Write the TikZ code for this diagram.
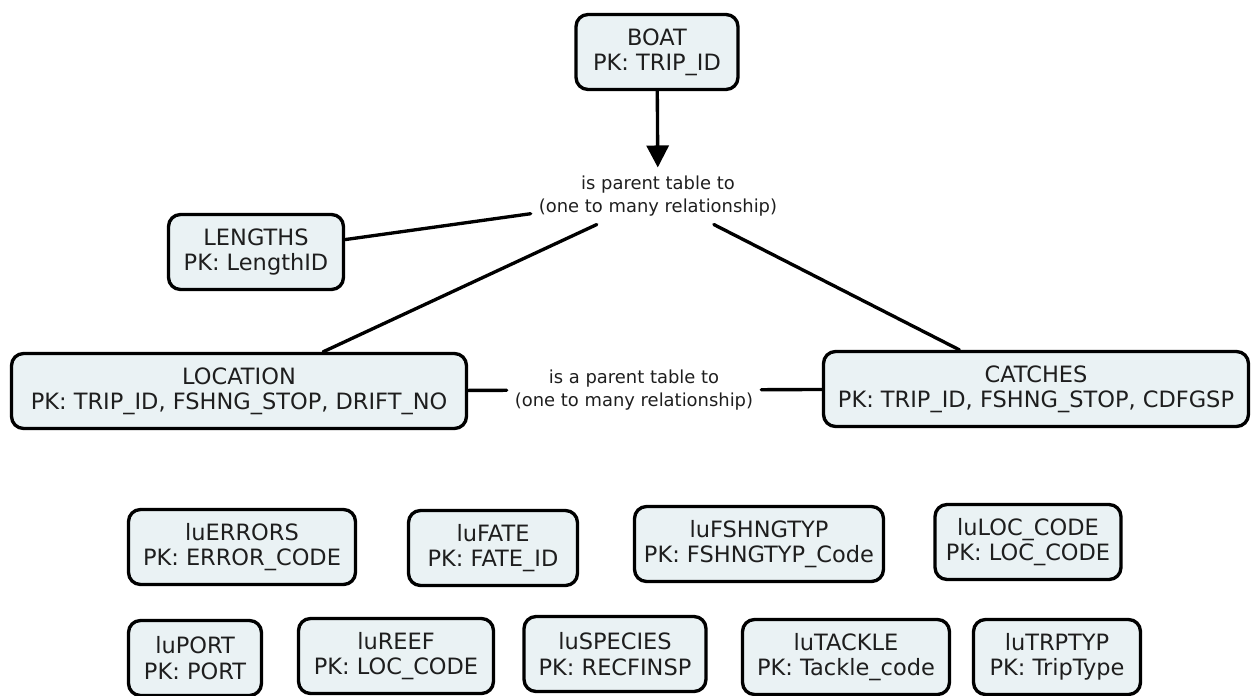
\documentclass[tikz,border=0pt]{standalone}
\usepackage{fontspec}
\setmainfont{DejaVu Sans}
\usetikzlibrary{arrows.meta}
\definecolor{tblfill}{RGB}{234,242,244}
\definecolor{tbltext}{RGB}{30,30,30}
\begin{document}
\begin{tikzpicture}[x=0.02cm,y=-0.02cm, line join=round, line cap=round,
	tbl/.style={draw, line width=1.9pt, rounded corners=6.8pt, fill=tblfill, text=tbltext,
		align=center, minimum height=1.5cm, font=\fontsize{12.8}{14.4}\selectfont},
	rel/.style={align=center, inner sep=4.5pt, text=tbltext, font=\fontsize{10.2}{13.2}\selectfont},
	link/.style={line width=1.9pt}]
	\useasboundingbox (0,0) rectangle (1252,696);
	% bang chinh
	\node[tbl, minimum width=3.24cm] (boat) at (657,52) {BOAT\\PK: TRIP\_ID};
	\node[rel] (rel1) at (658,196) {is parent table to\\(one to many relationship)};
	\node[tbl, minimum width=3.5cm] (lengths) at (256,252) {LENGTHS\\PK: LengthID};
	\node[tbl, minimum width=9.1cm] (location) at (239,391) {LOCATION\\PK: TRIP\_ID, FSHNG\_STOP, DRIFT\_NO};
	\node[tbl, minimum width=8.5cm] (catches) at (1036,389) {CATCHES\\PK: TRIP\_ID, FSHNG\_STOP, CDFGSP};
	\node[rel] (rel2) at (634,390) {is a parent table to\\(one to many relationship)};
	\draw[link,-{Triangle[width=0.44cm,length=0.44cm]}] (boat)--(rel1);
	\draw[link] (lengths)--(rel1);
	\draw[link] (rel1)--(location);
	\draw[link] (rel1)--(catches);
	\draw[link] (location)--(rel2);
	\draw[link] (rel2)--(catches);
	% bang tra cuu
	\node[tbl, minimum width=4.54cm] (luerrors) at (242,547) {luERRORS\\PK: ERROR\_CODE};
	\node[tbl, minimum width=3.38cm] (lufate) at (493,548) {luFATE\\PK: FATE\_ID};
	\node[tbl, minimum width=4.98cm] (lufshngtyp) at (759,544) {luFSHNGTYP\\PK: FSHNGTYP\_Code};
	\node[tbl, minimum width=3.72cm] (luloccode) at (1028,542) {luLOC\_CODE\\PK: LOC\_CODE};
	\node[tbl, minimum width=2.66cm] (luport) at (195,658) {luPORT\\PK: PORT};
	\node[tbl, minimum width=3.9cm] (lureef) at (396,656) {luREEF\\PK: LOC\_CODE};
	\node[tbl, minimum width=3.64cm] (luspecies) at (615,654) {luSPECIES\\PK: RECFINSP};
	\node[tbl, minimum width=4.14cm] (lutackle) at (846,657) {luTACKLE\\PK: Tackle\_code};
	\node[tbl, minimum width=3.34cm] (lutrptyp) at (1057,657) {luTRPTYP\\PK: TripType};
\end{tikzpicture}
\end{document}
